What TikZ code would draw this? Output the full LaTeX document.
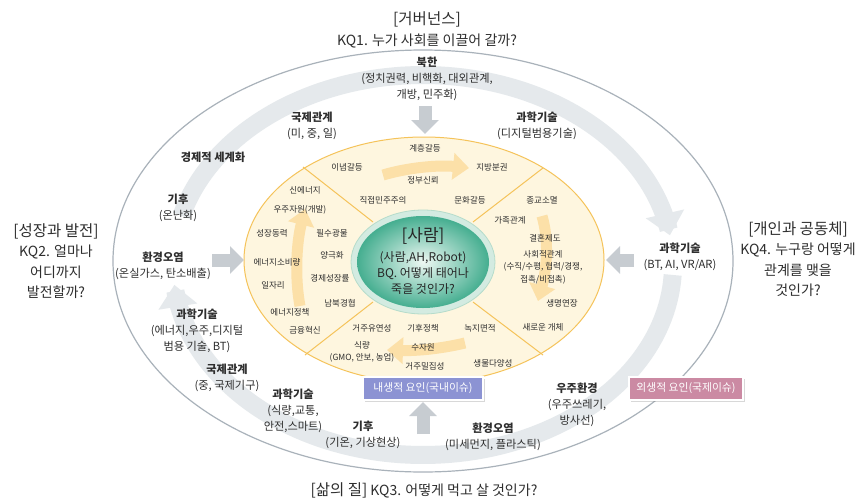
\documentclass[tikz,border=0pt]{standalone}
\usepackage{fontspec}
\setmainfont{Noto Sans CJK KR}
\usetikzlibrary{arrows.meta,shadows}
\definecolor{txt}{HTML}{2E2E2E}
\definecolor{outl}{HTML}{A9B2BA}
\definecolor{bandc}{HTML}{E5E9EC}
\definecolor{yfill}{HTML}{FEF6DF}
\definecolor{yline}{HTML}{F5C35A}
\definecolor{yarc}{HTML}{FCE0A8}
\definecolor{halo}{HTML}{D3EBE1}
\definecolor{haloline}{HTML}{B5DCCB}
\definecolor{gin}{HTML}{EEF8F3}
\definecolor{gout}{HTML}{45AE90}
\definecolor{garc}{HTML}{C7CCD1}
\definecolor{bluebox}{HTML}{8C93D3}
\definecolor{pinkbox}{HTML}{CB8AA3}
\tikzset{
  lbl/.style={font=\fontsize{11.2}{16.3}\selectfont, text=txt, align=center, inner sep=0pt},
  yitem/.style={font=\fontsize{8.5}{12.5}\selectfont, text=txt, align=center, inner sep=0pt},
  ttl/.style={font=\fontsize{14}{20.5}\selectfont, text=txt, align=center, inner sep=0pt},
  band/.style={draw=bandc, line width=18pt, -{Triangle[width=38pt,length=22pt]}},
  yarrow/.style={draw=yarc, line width=11pt, -{Triangle[width=26pt,length=16pt]}},
  garrow/.style={draw=garc, line width=13pt, -{Triangle[width=27pt,length=14pt]}},
  secline/.style={draw=yline, line width=1pt},
  factbox/.style={draw=white, line width=1.2pt, text=white, minimum height=23pt,
    inner sep=0pt, font=\fontsize{10.8}{12}\selectfont,
    drop shadow={shadow xshift=1.5pt, shadow yshift=-1.5pt, opacity=0.3}}
}
\begin{document}
\begin{tikzpicture}[x=1pt,y=-1pt]
\useasboundingbox[fill=white] (0,0) rectangle (863,501);

% outer ellipse
\draw[outl, line width=1.2pt] (423,261) ellipse [x radius=310pt, y radius=211pt];

% circulating band arrows
\draw[band] plot[domain=195:351, samples=90] ({423+250*cos(\x)}, {265+190*sin(\x)});
\draw[band] plot[domain=3:174, samples=90] ({423+250*cos(\x)}, {265+190*sin(\x)});

% yellow ring
\draw[fill=yfill, draw=yline, line width=1pt] (424,260) ellipse [x radius=180pt, y radius=123pt];
\draw[secline] (303,167) -- (373,222);
\draw[secline] (543,168) -- (473,222);
\draw[secline] (373,302) -- (305,355);
\draw[secline] (473,302) -- (543,355);

% yellow circulating arrows
\draw[yarrow] (383,175) .. controls (410,167) and (440,165) .. (469,168);
\draw[yarrow] (542,216) .. controls (549,240) and (547,268) .. (538,301);
\draw[yarrow] (465,343) .. controls (440,349) and (415,351) .. (387,350);
\draw[yarrow] (300,306) .. controls (295,280) and (296,245) .. (305,209);

% green center
\draw[fill=halo, draw=haloline, line width=0.8pt] (423,262) ellipse [x radius=72pt, y radius=52pt];
\shade[inner color=gin, outer color=gout] (423,262) ellipse [x radius=66pt, y radius=46pt];
\node[font=\fontsize{17}{20}\selectfont, text=black!85, inner sep=0pt] (sa) at (423,236) {[사람]};
\node[font=\fontsize{12}{16}\selectfont, text=black!85, align=center, inner sep=0pt] (bq) at (423,273)
  {(사람,AH,Robot)\\BQ. 어떻게 태어나\\죽을 것인가?};

% gray block arrows
\coordinate (gN1) at (425,106); \coordinate (gN2) at (425,134);
\coordinate (gW1) at (212,260); \coordinate (gW2) at (244,260);
\coordinate (gE1) at (634,260); \coordinate (gE2) at (606,260);
\coordinate (gS1) at (423,434); \coordinate (gS2) at (423,402);
\draw[garrow] (gN1) -- (gN2);
\draw[garrow] (gW1) -- (gW2);
\draw[garrow] (gE1) -- (gE2);
\draw[garrow] (gS1) -- (gS2);

% titles
\node[font=\fontsize{15.5}{18}\selectfont, text=txt, inner sep=0pt] (t1) at (427,19) {[거버넌스]};
\node[ttl] (t1b) at (427,41) {KQ1. 누가 사회를 이끌어 갈까?};
\node[ttl] (t2) at (56,261) {{\fontsize{15.5}{18}\selectfont [성장과 발전]}\\KQ2. 얼마나\\어디까지\\발전할까?};
\node[ttl] (t4) at (798,259) {{\fontsize{15.5}{18}\selectfont [개인과 공동체]}\\KQ4. 누구랑 어떻게\\관계를 맺을\\것인가?};
\node[ttl] (t3) at (424,490) {{\fontsize{15.5}{18}\selectfont [삶의 질]} KQ3. 어떻게 먹고 살 것인가?};

% outer labels
\node[lbl] (nk) at (427,79) {\textbf{북한}\\(정치권력, 비핵화, 대외관계,\\개방, 민주화)};
\node[lbl] (ir1) at (312,126) {\textbf{국제관계}\\(미, 중, 일)};
\node[lbl] (st1) at (537,126) {\textbf{과학기술}\\(디지털범용기술)};
\node[lbl] (eg) at (213,157) {\textbf{경제적 세계화}};
\node[lbl] (cl1) at (178,208) {\textbf{기후}\\(온난화)};
\node[lbl] (ep1) at (163,266) {\textbf{환경오염}\\(온실가스, 탄소배출)};
\node[lbl] (st2) at (680,257) {\textbf{과학기술}\\(BT, AI, VR/AR)};
\node[lbl] (st3) at (197,331) {\textbf{과학기술}\\(에너지,우주,디지털\\범용 기술, BT)};
\node[lbl] (ir2) at (227,378) {\textbf{국제관계}\\(중, 국제기구)};
\node[lbl] (st4) at (293,411) {\textbf{과학기술}\\(식량,교통,\\안전,스마트)};
\node[lbl] (cl2) at (363,435) {\textbf{기후}\\(기온, 기상현상)};
\node[lbl] (ep2) at (493,437) {\textbf{환경오염}\\(미세먼지, 플라스틱)};
\node[lbl] (se) at (577,405) {\textbf{우주환경}\\(우주쓰레기,\\방사선)};

% yellow ring items
\node[yitem] (y1) at (425,148) {계층갈등};
\node[yitem] (y2) at (347,167) {이념갈등};
\node[yitem] (y3) at (492,167) {지방분권};
\node[yitem] (y4) at (423,180) {정부신뢰};
\node[yitem] (y5) at (305,190) {신에너지};
\node[yitem] (y6) at (383,200) {직접민주주의};
\node[yitem] (y7) at (470,200) {문화갈등};
\node[yitem] (y8) at (542,200) {종교소멸};
\node[yitem] (y9) at (300,210) {우주자원(개발)};
\node[yitem] (y10) at (510,220) {가족관계};
\node[yitem] (y11) at (272,233) {성장동력};
\node[yitem] (y12) at (332,233) {필수광물};
\node[yitem] (y13) at (545,238) {결혼제도};
\node[yitem] (y14) at (332,255) {양극화};
\node[yitem] (y15) at (277,262) {에너지소비량};
\node[yitem] (y16) at (543,267) {사회적관계\\(수직/수평, 협력/경쟁,\\접촉/비접촉)};
\node[yitem] (y17) at (330,278) {경제성장률};
\node[yitem] (y18) at (273,285) {일자리};
\node[yitem] (y19) at (340,303) {남북경협};
\node[yitem] (y20) at (562,303) {생명연장};
\node[yitem] (y21) at (290,312) {에너지정책};
\node[yitem] (y22) at (372,328) {거주유연성};
\node[yitem] (y23) at (423,328) {기후정책};
\node[yitem] (y24) at (480,328) {녹지면적};
\node[yitem] (y25) at (543,327) {새로운 개체};
\node[yitem] (y26) at (305,330) {금융혁신};
\node[yitem] (y27) at (362,352) {식량\\(GMO, 안보, 농업)};
\node[yitem] (y28) at (423,347) {수자원};
\node[yitem] (y29) at (425,366) {거주밀집성};
\node[yitem] (y30) at (493,363) {생물다양성};

% factor boxes
\node[factbox, fill=bluebox, minimum width=120pt] (endo) at (423,388.5) {내생적 요인(국내이슈)};
\node[factbox, fill=pinkbox, minimum width=114pt] (exo) at (686,388.5) {외생적 요인(국제이슈)};
\end{tikzpicture}
\end{document}
